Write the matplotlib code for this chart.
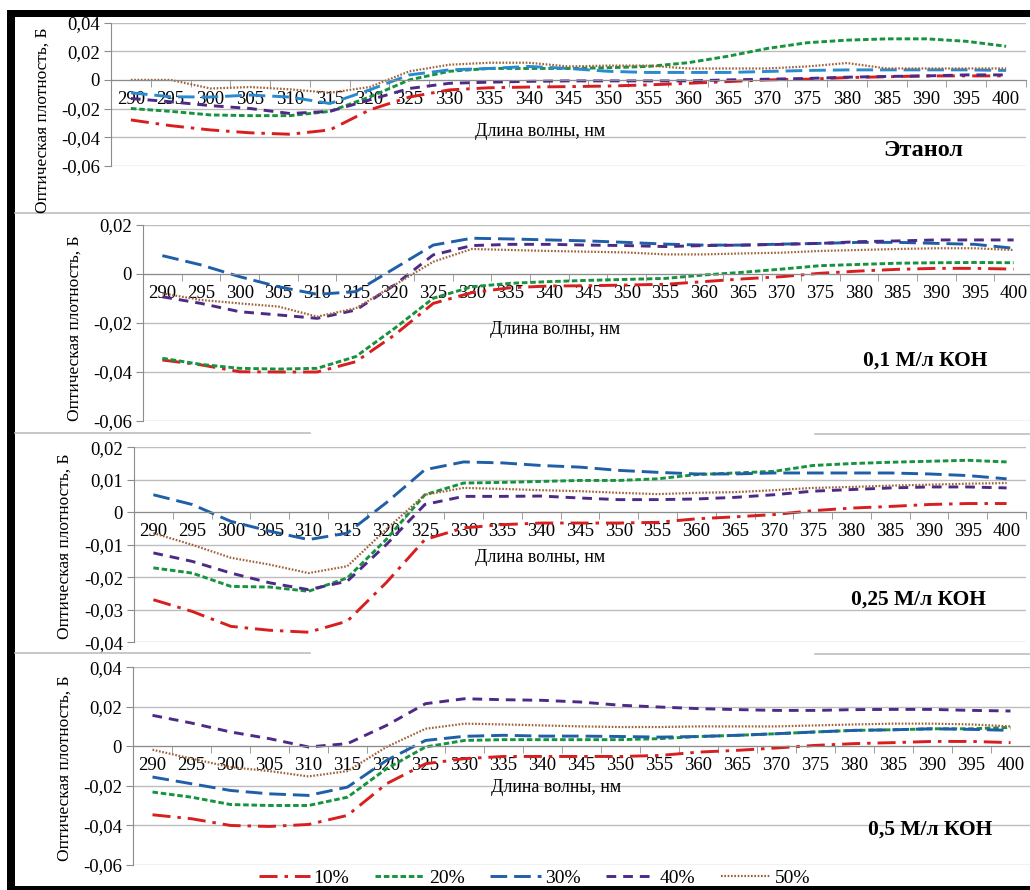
import matplotlib
matplotlib.use('Agg')
import matplotlib.pyplot as plt
from matplotlib.lines import Line2D
from matplotlib.patches import Rectangle
from matplotlib.ticker import FuncFormatter

W, H = 1030, 890
SERIF = ['Liberation Serif', 'DejaVu Serif']

WAVES = [290, 295, 300, 305, 310, 315, 320, 325, 330, 335, 340, 345,
         350, 355, 360, 365, 370, 375, 380, 385, 390, 395, 400]
SERIES = ['10%', '20%', '30%', '40%', '50%']

# Этанол
ETH_10 = [-0.028, -0.032, -0.035, -0.037, -0.038, -0.035, -0.021, -0.012, -0.007, -0.0055, -0.005, -0.0047,
          -0.0043, -0.0035, -0.0024, -0.0012, 0.0, 0.0005, 0.0016, 0.0022, 0.0028, 0.0028, 0.0028]
ETH_20 = [-0.020, -0.022, -0.0245, -0.025, -0.025, -0.022, -0.012, 0.0, 0.006, 0.008, 0.008, 0.008,
          0.0085, 0.0094, 0.012, 0.0165, 0.022, 0.026, 0.0278, 0.0287, 0.0287, 0.027, 0.0235]
ETH_30 = [-0.009, -0.0118, -0.012, -0.0106, -0.012, -0.0165, -0.007, 0.0035, 0.007, 0.008, 0.0094, 0.008,
          0.006, 0.0052, 0.0052, 0.0052, 0.0059, 0.0066, 0.007, 0.007, 0.007, 0.007, 0.0066]
ETH_40 = [-0.013, -0.0153, -0.018, -0.020, -0.0235, -0.022, -0.014, -0.006, -0.0024, -0.0016, -0.001, -0.0007,
          -0.0007, -0.0007, -0.0007, 0.0, 0.0005, 0.001, 0.0019, 0.0024, 0.0028, 0.0035, 0.0035]
ETH_50 = [0.0, 0.0, -0.006, -0.005, -0.0066, -0.009, -0.005, 0.006, 0.0106, 0.012, 0.012, 0.0094,
          0.01, 0.01, 0.008, 0.008, 0.008, 0.0094, 0.0118, 0.008, 0.008, 0.008, 0.008]

# 0,1 М/л КОН
K01_10 = [-0.0351, -0.0371, -0.0399, -0.040, -0.040, -0.0358, -0.0249, -0.012, -0.0076, -0.0056, -0.0049, -0.0048,
          -0.0045, -0.0042, -0.0031, -0.002, -0.0011, 0.0003, 0.0012, 0.0019, 0.0023, 0.0023, 0.002]
K01_20 = [-0.0344, -0.0369, -0.0385, -0.0388, -0.0385, -0.0337, -0.0222, -0.0099, -0.0052, -0.0038, -0.0031, -0.0026,
          -0.0022, -0.0018, -0.0004, 0.0007, 0.002, 0.0034, 0.0039, 0.0044, 0.0046, 0.0047, 0.0046]
K01_30 = [0.0075, 0.0037, -0.0011, -0.0052, -0.0083, -0.0072, 0.0023, 0.0118, 0.0146, 0.0143, 0.0139, 0.0135,
          0.0129, 0.0122, 0.0118, 0.0118, 0.0122, 0.0125, 0.0129, 0.0129, 0.0125, 0.0121, 0.0105]
K01_40 = [-0.0093, -0.012, -0.0154, -0.0167, -0.0181, -0.0147, -0.0045, 0.0078, 0.0116, 0.0121, 0.0121, 0.0118,
          0.0116, 0.0112, 0.0116, 0.0118, 0.0121, 0.0125, 0.0132, 0.0135, 0.0139, 0.0139, 0.0139]
K01_50 = [-0.0079, -0.0106, -0.012, -0.0133, -0.0174, -0.014, -0.0045, 0.005, 0.0102, 0.0098, 0.0094, 0.0091,
          0.0088, 0.008, 0.008, 0.0084, 0.0087, 0.0094, 0.0098, 0.0102, 0.0105, 0.0105, 0.0098]

# 0,25 М/л КОН
K025_10 = [-0.0269, -0.0305, -0.0351, -0.0363, -0.0369, -0.0335, -0.0217, -0.0084, -0.0048, -0.0038, -0.0033, -0.0033,
           -0.0033, -0.0031, -0.002, -0.0014, -0.0007, 0.0005, 0.0013, 0.0018, 0.0024, 0.0027, 0.0027]
K025_20 = [-0.0171, -0.0187, -0.0228, -0.023, -0.0243, -0.0202, -0.0084, 0.0054, 0.009, 0.0092, 0.0095, 0.0098,
           0.0098, 0.0103, 0.0116, 0.0121, 0.0126, 0.0144, 0.015, 0.0154, 0.0157, 0.016, 0.0155]
K025_30 = [0.0054, 0.0024, -0.0028, -0.0058, -0.0084, -0.0064, 0.0029, 0.0131, 0.0155, 0.0152, 0.0144, 0.0139,
           0.0129, 0.0123, 0.0118, 0.0118, 0.0121, 0.0121, 0.0121, 0.0121, 0.0118, 0.0113, 0.0103]
K025_40 = [-0.0125, -0.0151, -0.0187, -0.0217, -0.0238, -0.0212, -0.010, 0.0024, 0.0049, 0.0049, 0.005, 0.0044,
           0.0039, 0.0039, 0.0041, 0.0046, 0.0054, 0.0065, 0.007, 0.0075, 0.0078, 0.0078, 0.0075]
K025_50 = [-0.0064, -0.010, -0.014, -0.0161, -0.0187, -0.0166, -0.0053, 0.0054, 0.0075, 0.0072, 0.0068, 0.0065,
           0.006, 0.0056, 0.006, 0.0062, 0.0068, 0.0075, 0.0078, 0.0082, 0.0085, 0.0088, 0.009]

# 0,5 М/л КОН
K05_10 = [-0.0346, -0.0366, -0.040, -0.0405, -0.0395, -0.0349, -0.0189, -0.0088, -0.0062, -0.0051, -0.0051, -0.0051,
          -0.0051, -0.0046, -0.0029, -0.002, -0.0008, 0.0005, 0.0014, 0.0019, 0.0025, 0.0025, 0.0019]
K05_20 = [-0.0231, -0.0257, -0.0294, -0.0299, -0.0299, -0.0257, -0.0113, -0.0003, 0.003, 0.0034, 0.0034, 0.0034,
          0.0034, 0.0039, 0.005, 0.0056, 0.0064, 0.0073, 0.0081, 0.0084, 0.0089, 0.0089, 0.0096]
K05_30 = [-0.0155, -0.0189, -0.0223, -0.024, -0.0248, -0.0206, -0.0071, 0.003, 0.0051, 0.0056, 0.0052, 0.0052,
          0.005, 0.0047, 0.005, 0.0056, 0.0064, 0.0073, 0.0081, 0.0084, 0.0089, 0.0086, 0.0081]
K05_40 = [0.0157, 0.0118, 0.0073, 0.0039, -0.0003, 0.0014, 0.0106, 0.0216, 0.0241, 0.0236, 0.0233, 0.0224,
          0.0208, 0.0199, 0.0191, 0.0186, 0.0182, 0.0182, 0.0186, 0.0187, 0.0187, 0.0182, 0.0179]
K05_50 = [-0.0017, -0.0062, -0.0105, -0.0125, -0.0152, -0.0125, -0.0003, 0.0089, 0.0115, 0.0111, 0.0106, 0.0101,
          0.0098, 0.0098, 0.0101, 0.0101, 0.0101, 0.0106, 0.0111, 0.0115, 0.0115, 0.0111, 0.0101]

PANEL_NAMES = ['Этанол', '0,1 М/л КОН', '0,25 М/л КОН', '0,5 М/л КОН']
PANEL_DATA = [
    (ETH_10, ETH_20, ETH_30, ETH_40, ETH_50),
    (K01_10, K01_20, K01_30, K01_40, K01_50),
    (K025_10, K025_20, K025_30, K025_40, K025_50),
    (K05_10, K05_20, K05_30, K05_40, K05_50),
]

# pixel layout: axes box, y range/step, y-label pos, x-title pos, name pos
LAYOUT = [
    dict(box=(111, 22.7, 1026, 165.7), ylim=(-0.06, 0.04), step=0.02,
         ylab=(43, 120), xtitle=(540, 132), name=(923, 151), nsize=17.5),
    dict(box=(143, 225, 1033, 421), ylim=(-0.06, 0.02), step=0.02,
         ylab=(75, 328), xtitle=(555, 330), name=(925, 361), nsize=15.5),
    dict(box=(134, 447.3, 1026, 642.3), ylim=(-0.04, 0.02), step=0.01,
         ylab=(65, 546), xtitle=(540, 558), name=(918, 600), nsize=15.5),
    dict(box=(133, 667.3, 1030, 865), ylim=(-0.06, 0.04), step=0.02,
         ylab=(65, 768), xtitle=(556, 787), name=(930, 830), nsize=15.5),
]

STYLES = [
    dict(color='#D81E1E', lw=2.1, dashes=(13, 5, 2.5, 5)),
    dict(color='#17933F', lw=2.1, dashes=(4, 2)),
    dict(color='#1F5FA8', lw=2.1, dashes=(12, 5)),
    dict(color='#4E2A87', lw=2.1, dashes=(7, 5)),
    dict(color='#A0623A', lw=1.6, dashes=(1.2, 1.2)),
]

GRID = '#BDBDBD'
AXIS = '#8C8C8C'


def fx(x):
    return x / W


def fy(y):
    return 1 - y / H


def ytick_fmt(v, _):
    if abs(v) < 1e-9:
        return '0'
    return f'{v:.2f}'.replace('.', ',')


def draw_panel(fig, idx):
    lay = LAYOUT[idx]
    l, t, r, b = lay['box']
    ax = fig.add_axes([fx(l), fy(b), (r - l) / W, (b - t) / H])
    xs = list(range(len(WAVES)))
    for i, vals in enumerate(PANEL_DATA[idx]):
        st = dict(STYLES[i])
        if idx == 0 and i == 2:
            st['color'] = '#2A8AD0'
        ax.plot(xs, vals, label=SERIES[i], solid_capstyle='butt', **st)

    lo, hi = lay['ylim']
    n = int(round((hi - lo) / lay['step']))
    ticks = [lo + k * lay['step'] for k in range(n + 1)]
    ax.set_ylim(lo, hi)
    ax.set_yticks(ticks)
    ax.yaxis.set_major_formatter(FuncFormatter(ytick_fmt))
    ax.set_xlim(-0.5, len(WAVES) - 0.5)
    ax.set_xticks(xs)
    ax.set_xticklabels([str(w) for w in WAVES])
    ax.set_xticks([k - 0.5 for k in range(len(WAVES) + 1)], minor=True)

    ax.grid(axis='y', color=GRID, lw=1.0)
    ax.set_axisbelow('line')
    for s in ('top', 'right'):
        ax.spines[s].set_visible(False)
    ax.spines['left'].set_color(AXIS)
    ax.spines['bottom'].set_color(AXIS)
    ax.spines['bottom'].set_position(('data', 0))
    ax.tick_params(axis='x', which='major', length=0, pad=8,
                   labelsize=13.5, labelfontfamily=SERIF)
    ax.tick_params(axis='x', which='minor', length=5, color=AXIS, direction='out')
    ax.tick_params(axis='y', length=5, color=AXIS, pad=3,
                   labelsize=13.5, labelfontfamily=SERIF)
    ax.patch.set_alpha(0)

    x, y = lay['ylab']
    fig.text(fx(x), fy(y), 'Оптическая плотность, Б', rotation=90,
             ha='center', va='center', fontsize=12.5, family=SERIF)
    x, y = lay['xtitle']
    fig.text(fx(x), fy(y), 'Длина волны, нм', ha='center', va='center',
             fontsize=13, family=SERIF)
    x, y = lay['name']
    fig.text(fx(x), fy(y), PANEL_NAMES[idx], ha='center', va='center',
             fontsize=lay['nsize'], fontweight='bold', family=SERIF)
    return ax


def hline(fig, y, x0, x1, color=GRID, lw=1.2):
    fig.add_artist(Line2D([fx(x0), fx(x1)], [fy(y), fy(y)],
                          transform=fig.transFigure, color=color, lw=lw))


def main():
    plt.rcParams['lines.scale_dashes'] = False
    fig = plt.figure(figsize=(W / 100, H / 100), dpi=100)

    # chart frames between panels
    hline(fig, 213, 15, 1030)
    hline(fig, 433, 15, 310)
    hline(fig, 434, 815, 1030)
    hline(fig, 653, 15, 310)
    hline(fig, 654, 815, 1030)

    axes = [draw_panel(fig, i) for i in range(4)]

    # black outer border
    for x0, y0, w, h in [(7, 10, 1023, 7), (7, 10, 8, 880), (7, 886, 1023, 4)]:
        fig.add_artist(Rectangle((fx(x0), fy(y0 + h)), w / W, h / H,
                                 transform=fig.transFigure, color='black', lw=0))

    handles, labels = axes[3].get_legend_handles_labels()
    fig.legend(handles, labels, ncol=5, loc='center', frameon=False,
               bbox_to_anchor=(fx(535), fy(878)), handlelength=2.6,
               handletextpad=0.2, columnspacing=1.3,
               prop=dict(family=SERIF, size=14))

    fig.savefig('out.png', dpi=100)


if __name__ == '__main__':
    main()
